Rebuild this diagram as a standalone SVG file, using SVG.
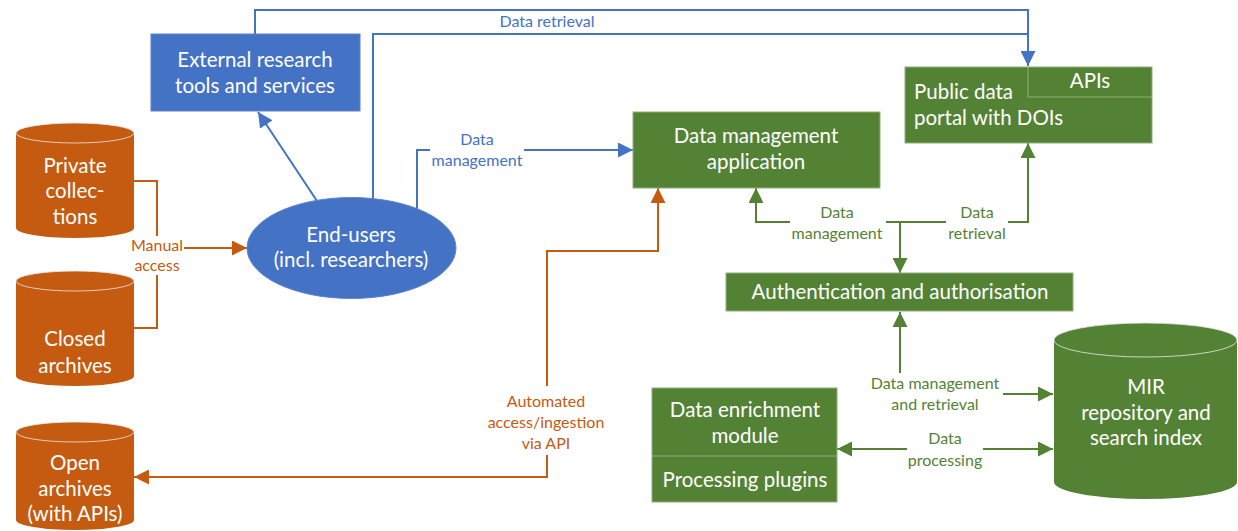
<svg xmlns="http://www.w3.org/2000/svg" width="1238" height="531" viewBox="0 0 1238 531">
<style>
.t{font-family:Lato,"Liberation Sans",sans-serif;font-size:20.5px;fill:#fff;text-anchor:middle}
.tl{text-anchor:start}
.lb{font-family:Lato,"Liberation Sans",sans-serif;font-size:16px;text-anchor:middle}
.lbB{fill:#4472C4}.lbO{fill:#C55A11}.lbG{fill:#548235}
.bB{fill:#4472C4;stroke:#5b84cc;stroke-width:1}
.bG{fill:#548235;stroke:#8fae7a;stroke-width:1}
.cO{fill:#C55A11}.cG{fill:#548235}
.rim{fill:none;stroke:#e8e8e8;stroke-width:0.8}
.cB{fill:none;stroke:#4472C4;stroke-width:2}
.cO2{fill:none;stroke:#C55A11;stroke-width:2}
.cG2{fill:none;stroke:#548235;stroke-width:2}
</style>
<defs>
<marker id="aB" viewBox="0 0 10 10" refX="10" refY="5" markerWidth="7.5" markerHeight="7.5" orient="auto-start-reverse" markerUnits="strokeWidth"><path d="M0,0L10,5L0,10Z" fill="#4472C4"/></marker>
<marker id="aO" viewBox="0 0 10 10" refX="10" refY="5" markerWidth="7.5" markerHeight="7.5" orient="auto-start-reverse" markerUnits="strokeWidth"><path d="M0,0L10,5L0,10Z" fill="#C55A11"/></marker>
<marker id="aG" viewBox="0 0 10 10" refX="10" refY="5" markerWidth="7.5" markerHeight="7.5" orient="auto-start-reverse" markerUnits="strokeWidth"><path d="M0,0L10,5L0,10Z" fill="#548235"/></marker>
</defs>

<g id="connectors">
<!-- blue -->
<path class="cB" d="M255,34 V10 H1028 V66" marker-end="url(#aB)"/>
<path class="cB" d="M373,199 V34 H1028"/>
<path class="cB" d="M317,201 L258,112" marker-end="url(#aB)"/>
<path class="cB" d="M417,209 V150 H430"/>
<path class="cB" d="M524,150 H633" marker-end="url(#aB)"/>
<!-- orange -->
<path class="cO2" d="M134,181 H157 V236"/>
<path class="cO2" d="M134,328 H157 V275"/>
<path class="cO2" d="M184,248 H247" marker-end="url(#aO)"/>
<path class="cO2" d="M547,386 V251 H658 V188" marker-end="url(#aO)"/>
<path class="cO2" d="M547,455 V477 H134" marker-end="url(#aO)"/>
<!-- green -->
<path class="cG2" d="M790,222 H756 V188" marker-end="url(#aG)"/>
<path class="cG2" d="M886,222 H946"/>
<path class="cG2" d="M1008,222 H1028 V143" marker-end="url(#aG)"/>
<path class="cG2" d="M900,222 V273" marker-end="url(#aG)"/>
<path class="cG2" d="M900,373 V312" marker-end="url(#aG)"/>
<path class="cG2" d="M1003,394 H1053" marker-end="url(#aG)"/>
<path class="cG2" d="M907,449 H837" marker-end="url(#aG)"/>
<path class="cG2" d="M983,449 H1053" marker-end="url(#aG)"/>
<!-- labels -->
<text class="lb lbB" x="547" y="27">Data retrieval</text>
<text class="lb lbB" x="477" y="145">Data</text>
<text class="lb lbB" x="477" y="166">management</text>
<text class="lb lbO" x="157" y="251">Manual</text>
<text class="lb lbO" x="157" y="271">access</text>
<text class="lb lbO" x="546" y="407">Automated</text>
<text class="lb lbO" x="546" y="428">access/ingestion</text>
<text class="lb lbO" x="546" y="449">via API</text>
<text class="lb lbG" x="837" y="218">Data</text>
<text class="lb lbG" x="837" y="239">management</text>
<text class="lb lbG" x="977" y="218">Data</text>
<text class="lb lbG" x="977" y="239">retrieval</text>
<text class="lb lbG" x="935" y="389">Data management</text>
<text class="lb lbG" x="935" y="410">and retrieval</text>
<text class="lb lbG" x="945" y="444">Data</text>
<text class="lb lbG" x="945" y="466">processing</text>
</g>

<g id="external-tools">
<rect class="bB" x="151" y="34" width="209" height="77"/>
<text class="t" x="255" y="67">External research</text>
<text class="t" x="255" y="93">tools and services</text>
</g>

<g id="end-users">
<ellipse cx="351.5" cy="248" rx="104.5" ry="50.5" fill="#4472C4" stroke="#5b84cc"/>
<text class="t" x="351" y="242">End-users</text>
<text class="t" x="351" y="267">(incl. researchers)</text>
</g>

<g id="private-collections">
<path class="cO" d="M16,133 A59,10 0 0 1 134,133 V228 A59,10 0 0 1 16,228 Z"/>
<ellipse class="rim" cx="75" cy="133" rx="59" ry="10"/>
<text class="t" x="75" y="173">Private</text>
<text class="t" x="75" y="198">collec-</text>
<text class="t" x="75" y="224">tions</text>
</g>

<g id="closed-archives">
<path class="cO" d="M16,281 A59,10 0 0 1 134,281 V376 A59,10 0 0 1 16,376 Z"/>
<ellipse class="rim" cx="75" cy="281" rx="59" ry="10"/>
<text class="t" x="75" y="346">Closed</text>
<text class="t" x="75" y="373">archives</text>
</g>

<g id="open-archives">
<path class="cO" d="M16,432 A59,10 0 0 1 134,432 V520 A59,10 0 0 1 16,520 Z"/>
<ellipse class="rim" cx="75" cy="432" rx="59" ry="10"/>
<text class="t" x="75" y="470">Open</text>
<text class="t" x="75" y="496">archives</text>
<text class="t" x="75" y="521">(with APIs)</text>
</g>

<g id="data-management-app">
<rect class="bG" x="633" y="112" width="247" height="76"/>
<text class="t" x="756" y="143">Data management</text>
<text class="t" x="756" y="169">application</text>
</g>

<g id="public-portal">
<rect class="bG" x="905" y="67" width="247" height="76"/>
<path d="M1028,67 V97 H1152" fill="none" stroke="#8fae7a" stroke-width="1"/>
<text class="t" x="1090" y="88">APIs</text>
<text class="t tl" x="914" y="99">Public data</text>
<text class="t tl" x="914" y="125">portal with DOIs</text>
</g>

<g id="auth">
<rect class="bG" x="726" y="273" width="347" height="38"/>
<text class="t" x="900" y="299">Authentication and authorisation</text>
</g>

<g id="enrichment">
<rect class="bG" x="652" y="388" width="185" height="114"/>
<line x1="652" y1="456" x2="837" y2="456" stroke="#8fae7a" stroke-width="1"/>
<text class="t" x="745" y="417">Data enrichment</text>
<text class="t" x="745" y="443">module</text>
<text class="t" x="745" y="487">Processing plugins</text>
</g>

<g id="mir">
<path class="cG" d="M1054,340 A91.5,17 0 0 1 1237,340 V482 A91.5,17 0 0 1 1054,482 Z"/>
<ellipse class="rim" cx="1145.5" cy="340" rx="91.5" ry="17"/>
<text class="t" x="1146" y="394">MIR</text>
<text class="t" x="1146" y="420">repository and</text>
<text class="t" x="1146" y="445">search index</text>
</g>
</svg>
